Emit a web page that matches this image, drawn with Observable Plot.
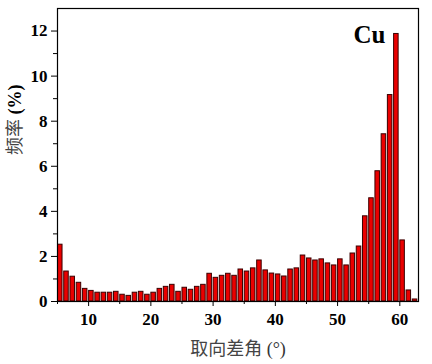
<!DOCTYPE html>
<html>
<head>
<meta charset="utf-8">
<script src="https://cdn.jsdelivr.net/npm/d3@7"></script>
<script src="https://cdn.jsdelivr.net/npm/@observablehq/plot@0.6"></script>
<style>
  html, body { margin: 0; padding: 0; background: #fff; }
  #chart svg { display: block; }
</style>
</head>
<body>
<div id="chart"></div>
<script>
// Misorientation-angle bins (degrees, left edge of each 1° bin)
const bins = [5,6,7,8,9,10,11,12,13,14,15,16,17,18,19,20,21,22,23,24,25,26,27,28,29,30,31,32,33,34,35,36,37,38,39,40,41,42,43,44,45,46,47,48,49,50,51,52,53,54,55,56,57,58,59,60,61,62];
// Frequency (%)
const freq = [2.52,1.33,1.10,0.83,0.56,0.47,0.39,0.39,0.39,0.43,0.30,0.25,0.39,0.43,0.30,0.39,0.56,0.65,0.74,0.43,0.61,0.52,0.65,0.74,1.23,1.05,1.14,1.23,1.14,1.42,1.33,1.47,1.82,1.38,1.24,1.20,1.11,1.42,1.47,2.04,1.91,1.82,1.87,1.69,1.60,1.87,1.60,2.13,2.44,3.78,4.58,5.78,7.42,9.16,11.87,2.71,0.49,0.09];
const xMajorTicks = [10,20,30,40,50,60];
const xMinorTicks = [5,15,25,35,45,55];
const yMajorTicks = [0,2,4,6,8,10,12];
const yMinorTicks = [1,3,5,7,9,11];
const xLabel = "取向差角";
const xUnit = " (°)";
const yLabel = "频率";
const yUnit = " (%)";
const annotation = "Cu";

const data = bins.map((b, i) => ({bin: b, freq: freq[i]}));
const serif = "Liberation Serif";
const cjk = "Noto Sans CJK SC";

const plot = Plot.plot({
  width: 432,
  height: 364,
  marginLeft: 57,
  marginRight: 14,
  marginTop: 8,
  marginBottom: 63,
  style: {fontFamily: serif, background: "#fff", color: "#000"},
  x: {domain: [5, 63]},
  y: {domain: [0, 13]},
  marks: [
    Plot.rectY(data, {
      x1: "bin",
      x2: d => d.bin + 1,
      y: "freq",
      insetLeft: 0.5,
      insetRight: 1.2,
      fill: "#ea0000",
      stroke: "#3a0000",
      strokeWidth: 1
    }),
    Plot.frame({stroke: "#000", strokeWidth: 1.2}),
    Plot.axisY({ticks: yMajorTicks, tickSize: 6, tickPadding: 4, label: null,
      fontSize: 17, fontWeight: "bold", className: "ticklab", tickFormat: d => String(d)}),
    Plot.axisY({ticks: yMinorTicks, tickSize: 4, label: null, tickFormat: () => ""}),
    Plot.axisX({ticks: xMajorTicks, tickSize: 5, tickPadding: 6, label: null,
      fontSize: 17, fontWeight: "bold", className: "ticklab", tickFormat: d => String(d)}),
    Plot.axisX({ticks: xMinorTicks, tickSize: 3, label: null, tickFormat: () => ""}),
    Plot.text([annotation], {
      text: d => d, frameAnchor: "top-right", dx: -33, dy: 17,
      textAnchor: "end", lineAnchor: "top",
      fontSize: 25, fontWeight: "bold", fill: "#000", fontFamily: serif
    }),
    Plot.text([xLabel + xUnit], {
      text: d => d, frameAnchor: "bottom", dy: 53, lineAnchor: "bottom",
      fontSize: 18, fill: "#333", fontFamily: cjk, className: "xlab"
    }),
    Plot.text([yLabel + yUnit], {
      text: d => d, frameAnchor: "left", dx: -42, rotate: -90,
      fontSize: 18, fill: "#333", fontFamily: cjk, className: "ylab"
    })
  ]
});

document.getElementById("chart").appendChild(plot);

const svg = d3.select(plot);
// Force serif bold digits on the tick labels
svg.selectAll("g[aria-label$='tick label'] text")
  .style("font-family", "'Liberation Serif', serif")
  .style("font-weight", "bold")
  .style("font-variant", "normal");
// Mixed fonts in the axis titles
svg.selectAll(".ylab text").each(function() {
  const t = d3.select(this);
  t.text(null);
  t.append("tspan").text(yLabel).style("font-family", "'Noto Sans CJK SC'").attr("fill", "#444");
  t.append("tspan").text(yUnit).style("font-family", "'Liberation Serif', serif").style("font-weight", "bold").attr("fill", "#000");
});
svg.selectAll(".xlab text").each(function() {
  const t = d3.select(this);
  t.text(null);
  t.append("tspan").text(xLabel).style("font-family", "'Noto Sans CJK SC'").attr("fill", "#444");
  t.append("tspan").text(xUnit).style("font-family", "'Liberation Serif', serif").attr("fill", "#333");
});
</script>
</body>
</html>
